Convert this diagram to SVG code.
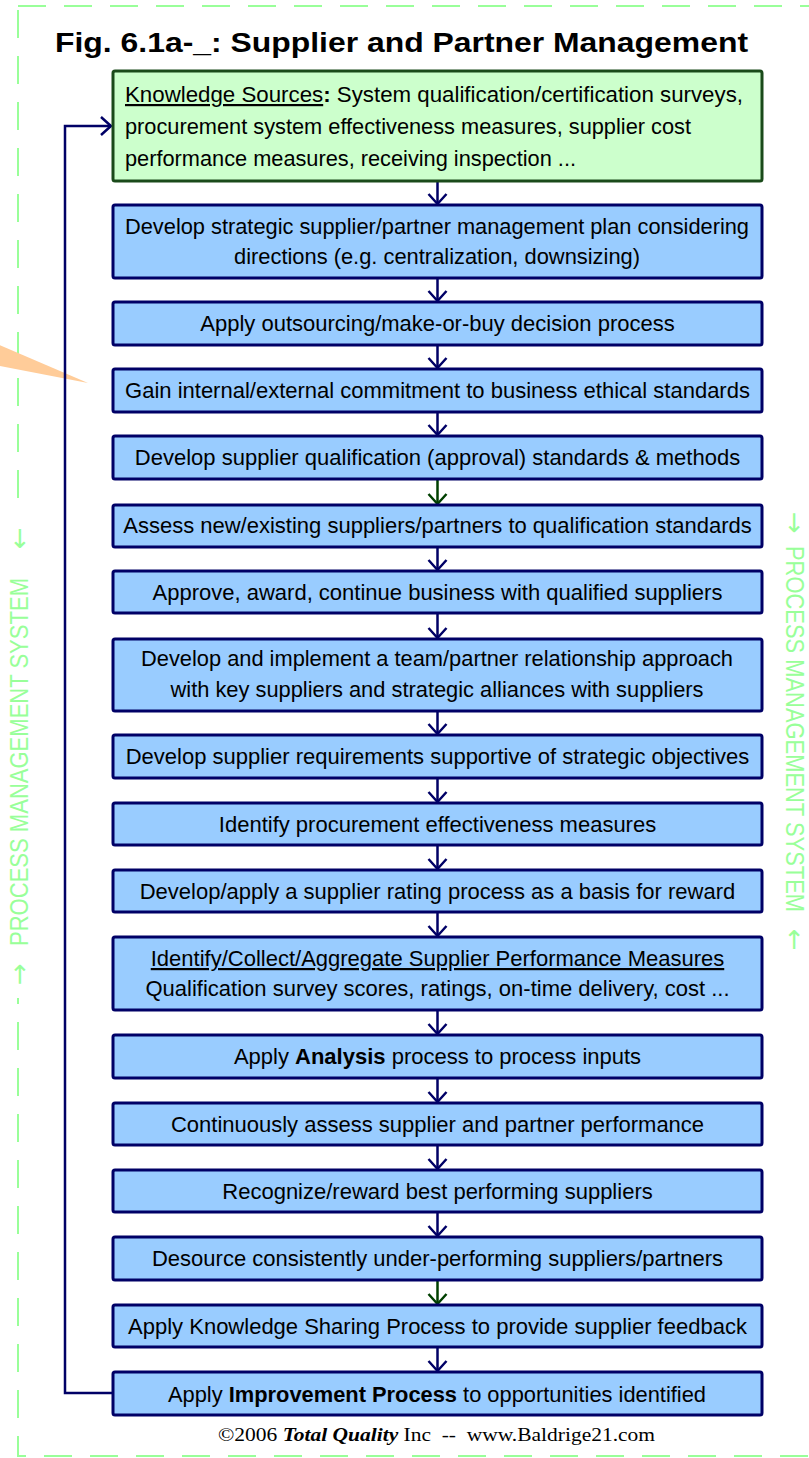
<svg xmlns="http://www.w3.org/2000/svg" width="809" height="1458" viewBox="0 0 809 1458">
<style>
.box{fill:#99ccff;stroke:#000066;stroke-width:3}
.ks{fill:#ccffcc;stroke:#1a4a1a;stroke-width:3}
.t{font-family:"Liberation Sans",Arial,sans-serif;font-size:22px;fill:#000;text-anchor:middle}
.tl{font-family:"Liberation Sans",Arial,sans-serif;font-size:22px;fill:#000}
.c{fill:none;stroke:#000066;stroke-width:2.5}
.cg{fill:none;stroke:#004000;stroke-width:2.5}
.vt{font-family:"Liberation Sans Narrow","Liberation Sans",Arial,sans-serif;font-size:26px;fill:#99ff99;text-anchor:middle}
.va{font-family:"DejaVu Sans","Liberation Sans",sans-serif;font-size:26px;fill:#99ff99;text-anchor:middle}
</style>
<defs>
<marker id="ah" markerUnits="userSpaceOnUse" viewBox="-12 -12 24 24" markerWidth="24" markerHeight="24" refX="0" refY="0" orient="auto">
<path d="M-10,-9 L0,0 L-10,9" fill="none" stroke="#000066" stroke-width="2.5"/>
</marker>
<marker id="ahg" markerUnits="userSpaceOnUse" viewBox="-12 -12 24 24" markerWidth="24" markerHeight="24" refX="0" refY="0" orient="auto">
<path d="M-10,-9 L0,0 L-10,9" fill="none" stroke="#004000" stroke-width="2.5"/>
</marker>
</defs>
<rect width="809" height="1458" fill="#fff"/>
<g id="frame">
<rect x="18" y="6" width="820" height="1450" fill="none" stroke="#99ff99" stroke-width="2" stroke-dasharray="28 18"/>
<rect x="4" y="512" width="30" height="486" fill="#fff"/>
<text class="va" transform="translate(28,974) rotate(-90)">→</text>
<text class="vt" transform="translate(28,762) rotate(-90)" textLength="368" lengthAdjust="spacingAndGlyphs">PROCESS MANAGEMENT SYSTEM</text>
<text class="va" transform="translate(28,538) rotate(-90)">←</text>
<text class="va" transform="translate(786,523) rotate(90)">→</text>
<text class="vt" transform="translate(786,729) rotate(90)" textLength="366" lengthAdjust="spacingAndGlyphs">PROCESS MANAGEMENT SYSTEM</text>
<text class="va" transform="translate(786,940) rotate(90)">←</text>
</g>
<polygon id="wedge" points="-10,341 88,383 -10,364" fill="#ffcc99"/>
<text id="title" x="55" y="52" font-family="Liberation Sans,Arial,sans-serif" font-size="28" font-weight="bold" textLength="693" lengthAdjust="spacingAndGlyphs">Fig. 6.1a-_: Supplier and Partner Management</text>
<g id="connectors">
<path class="c" d="M113,1393 H65 V126 H111" marker-end="url(#ah)"/>
<path class="c" d="M437.5,181 V204" marker-end="url(#ah)"/>
<path class="c" d="M437.5,278 V301" marker-end="url(#ah)"/>
<path class="c" d="M437.5,345 V368" marker-end="url(#ah)"/>
<path class="c" d="M437.5,412 V435" marker-end="url(#ah)"/>
<path class="cg" d="M437.5,479 V504" marker-end="url(#ahg)"/>
<path class="c" d="M437.5,547 V570" marker-end="url(#ah)"/>
<path class="c" d="M437.5,613 V638" marker-end="url(#ah)"/>
<path class="c" d="M437.5,711 V734" marker-end="url(#ah)"/>
<path class="c" d="M437.5,778 V802" marker-end="url(#ah)"/>
<path class="c" d="M437.5,845 V869" marker-end="url(#ah)"/>
<path class="c" d="M437.5,912 V936" marker-end="url(#ah)"/>
<path class="c" d="M437.5,1010 V1034" marker-end="url(#ah)"/>
<path class="c" d="M437.5,1078 V1102" marker-end="url(#ah)"/>
<path class="c" d="M437.5,1145 V1169" marker-end="url(#ah)"/>
<path class="c" d="M437.5,1212 V1236" marker-end="url(#ah)"/>
<path class="cg" d="M437.5,1280 V1304" marker-end="url(#ahg)"/>
<path class="c" d="M437.5,1347 V1371" marker-end="url(#ah)"/>
</g>
<g id="ks">
<rect class="ks" x="113" y="71" width="649" height="110" rx="2"/>
<text class="tl" x="125" y="102" textLength="618" lengthAdjust="spacingAndGlyphs"><tspan text-decoration="underline">Knowledge Sources</tspan><tspan font-weight="bold">:</tspan> System qualification/certification surveys,</text>
<text class="tl" x="125" y="134" textLength="566" lengthAdjust="spacingAndGlyphs">procurement system effectiveness measures, supplier cost</text>
<text class="tl" x="125" y="166" textLength="451" lengthAdjust="spacingAndGlyphs">performance measures, receiving inspection ...</text>
</g>
<g id="b1"><rect class="box" x="113" y="205" width="649" height="73" rx="2"/>
<text class="t" x="437" y="234" textLength="624" lengthAdjust="spacingAndGlyphs">Develop strategic supplier/partner management plan considering</text>
<text class="t" x="437" y="264" textLength="406" lengthAdjust="spacingAndGlyphs">directions (e.g. centralization, downsizing)</text></g>
<g id="b2"><rect class="box" x="113" y="302" width="649" height="43" rx="2"/>
<text class="t" x="437.5" y="331">Apply outsourcing/make-or-buy decision process</text></g>
<g id="b3"><rect class="box" x="113" y="369" width="649" height="43" rx="2"/>
<text class="t" x="437.5" y="398">Gain internal/external commitment to business ethical standards</text></g>
<g id="b4"><rect class="box" x="113" y="436" width="649" height="43" rx="2"/>
<text class="t" x="437.5" y="465">Develop supplier qualification (approval) standards &amp; methods</text></g>
<g id="b5"><rect class="box" x="113" y="505" width="649" height="42" rx="2"/>
<text class="t" x="437.5" y="533">Assess new/existing suppliers/partners to qualification standards</text></g>
<g id="b6"><rect class="box" x="113" y="571" width="649" height="42" rx="2"/>
<text class="t" x="437.5" y="600">Approve, award, continue business with qualified suppliers</text></g>
<g id="b7"><rect class="box" x="113" y="639" width="649" height="72" rx="2"/>
<text class="t" x="437" y="666" textLength="592" lengthAdjust="spacingAndGlyphs">Develop and implement a team/partner relationship approach</text>
<text class="t" x="437" y="697" textLength="533" lengthAdjust="spacingAndGlyphs">with key suppliers and strategic alliances with suppliers</text></g>
<g id="b8"><rect class="box" x="113" y="735" width="649" height="43" rx="2"/>
<text class="t" x="437.5" y="764">Develop supplier requirements supportive of strategic objectives</text></g>
<g id="b9"><rect class="box" x="113" y="803" width="649" height="42" rx="2"/>
<text class="t" x="437.5" y="832">Identify procurement effectiveness measures</text></g>
<g id="b10"><rect class="box" x="113" y="870" width="649" height="42" rx="2"/>
<text class="t" x="437.5" y="899">Develop/apply a supplier rating process as a basis for reward</text></g>
<g id="b11"><rect class="box" x="113" y="937" width="649" height="73" rx="2"/>
<text class="t" x="437.5" y="966" text-decoration="underline">Identify/Collect/Aggregate Supplier Performance Measures</text>
<text class="t" x="437.5" y="996">Qualification survey scores, ratings, on-time delivery, cost ...</text></g>
<g id="b12"><rect class="box" x="113" y="1035" width="649" height="43" rx="2"/>
<text class="t" x="437.5" y="1064">Apply <tspan font-weight="bold">Analysis</tspan> process to process inputs</text></g>
<g id="b13"><rect class="box" x="113" y="1103" width="649" height="42" rx="2"/>
<text class="t" x="437.5" y="1132">Continuously assess supplier and partner performance</text></g>
<g id="b14"><rect class="box" x="113" y="1170" width="649" height="42" rx="2"/>
<text class="t" x="437.5" y="1199">Recognize/reward best performing suppliers</text></g>
<g id="b15"><rect class="box" x="113" y="1237" width="649" height="43" rx="2"/>
<text class="t" x="437.5" y="1266">Desource consistently under-performing suppliers/partners</text></g>
<g id="b16"><rect class="box" x="113" y="1305" width="649" height="42" rx="2"/>
<text class="t" x="437.5" y="1334">Apply Knowledge Sharing Process to provide supplier feedback</text></g>
<g id="b17"><rect class="box" x="113" y="1372" width="649" height="43" rx="2"/>
<text class="t" x="437" y="1402" textLength="538" lengthAdjust="spacingAndGlyphs">Apply <tspan font-weight="bold">Improvement Process</tspan> to opportunities identified</text></g>
<text id="copyright" x="218" y="1441" font-family="Liberation Serif,'Times New Roman',serif" font-size="18" textLength="437" lengthAdjust="spacingAndGlyphs">©2006 <tspan font-weight="bold" font-style="italic">Total Quality</tspan> Inc &#160;-- &#160;www.Baldrige21.com</text>
</svg>
